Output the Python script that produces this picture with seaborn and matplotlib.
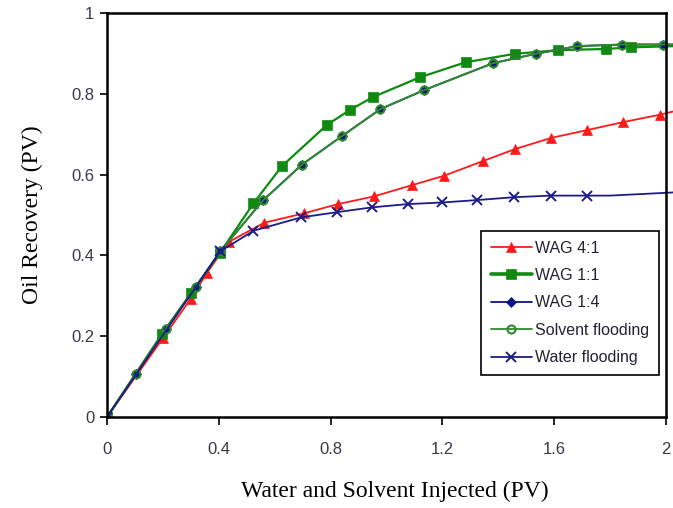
import matplotlib
matplotlib.use("Agg")
import matplotlib.pyplot as plt
import seaborn as sns
import pandas as pd
from matplotlib.transforms import Bbox, TransformedBbox

# Oil recovery curves (PV) versus injected water + solvent (PV)
wag41_x = [0, 0.2, 0.3, 0.357, 0.435, 0.563, 0.704, 0.826, 0.955, 1.092, 1.205,
           1.347, 1.459, 1.590, 1.717, 1.847, 1.977, 2.03]
wag41_y = [0, 0.195, 0.293, 0.356, 0.433, 0.481, 0.504, 0.527, 0.546, 0.574, 0.597,
           0.634, 0.663, 0.691, 0.710, 0.730, 0.748, 0.757]

wag11_x = [0, 0.196, 0.3, 0.405, 0.524, 0.626, 0.787, 0.869, 0.952, 1.12, 1.283,
           1.459, 1.615, 1.785, 1.875, 2.03]
wag11_y = [0, 0.205, 0.306, 0.407, 0.529, 0.621, 0.723, 0.760, 0.792, 0.841, 0.878,
           0.899, 0.908, 0.911, 0.915, 0.918]

wag14_x = [0, 0.104, 0.21, 0.317, 0.405, 0.558, 0.698, 0.842, 0.978, 1.134, 1.382,
           1.534, 1.683, 1.842, 1.988, 2.03]
wag14_y = [0, 0.106, 0.217, 0.321, 0.41, 0.536, 0.625, 0.696, 0.762, 0.809, 0.876,
           0.899, 0.918, 0.922, 0.922, 0.922]

solvent_x = [0, 0.104, 0.21, 0.317, 0.405, 0.558, 0.698, 0.842, 0.978, 1.134, 1.382,
             1.534, 1.683, 1.842, 1.988, 2.03]
solvent_y = [0, 0.106, 0.217, 0.321, 0.41, 0.536, 0.625, 0.696, 0.762, 0.809, 0.876,
             0.899, 0.918, 0.922, 0.922, 0.922]

water_x = [0, 0.405, 0.524, 0.694, 0.823, 0.949, 1.076, 1.2, 1.325, 1.456, 1.588,
           1.717, 1.80, 2.03]
water_y = [0, 0.41, 0.461, 0.494, 0.507, 0.519, 0.527, 0.531, 0.537, 0.544, 0.548,
           0.548, 0.548, 0.556]

x_ticks = [0, 0.4, 0.8, 1.2, 1.6, 2]
x_tick_labels = ["0", "0.4", "0.8", "1.2", "1.6", "2"]
y_ticks = [0, 0.2, 0.4, 0.6, 0.8, 1]
y_tick_labels = ["0", "0.2", "0.4", "0.6", "0.8", "1"]

sns.set_theme(style="white")
plt.rcParams["font.family"] = ["Liberation Sans", "DejaVu Sans"]

fig = plt.figure(figsize=(6.73, 5.08), dpi=100)
ax = fig.add_axes([107 / 673, 1 - 417 / 508, 559 / 673, 404 / 508])

series = [
    ("WAG 4:1", wag41_x, wag41_y,
     dict(color="#ff1a1a", marker="^", markersize=7.5, markeredgewidth=0.5, linewidth=1.3)),
    ("WAG 1:1", wag11_x, wag11_y,
     dict(color="#108a10", marker="s", markersize=7.5, markeredgewidth=0.5, linewidth=1.6)),
    ("WAG 1:4", wag14_x, wag14_y,
     dict(color="#0a1480", marker="D", markersize=4.8, markeredgewidth=0.5, linewidth=1.3)),
    ("Solvent flooding", solvent_x, solvent_y,
     dict(color="#2e8b2e", marker="o", markersize=5.8, markerfacecolor="none",
          markeredgewidth=1.5, linewidth=1.4)),
    ("Water flooding", water_x, water_y,
     dict(color="#1c1c86", marker="x", markersize=7, markeredgewidth=1.4, linewidth=1.3)),
]

# Lines run slightly past the right frame, so clip only on the other sides
clip = TransformedBbox(Bbox([[0, 0], [1.02, 1]]), ax.transAxes)

for name, xs, ys, style in series:
    df = pd.DataFrame({"x": xs, "y": ys})
    n_marked = len(xs) - (2 if name == "Water flooding" else 1)
    sns.lineplot(data=df, x="x", y="y", ax=ax, label=name, sort=False,
                 estimator=None, markevery=list(range(n_marked)),
                 markeredgecolor=style["color"], **style)

for line in ax.get_lines():
    line.set_clip_box(clip)

ax.set_xlim(0, 2)
ax.set_ylim(0, 1)
ax.set_xticks(x_ticks)
ax.set_xticklabels(x_tick_labels)
ax.set_yticks(y_ticks)
ax.set_yticklabels(y_tick_labels)

tick_color = "#3a3a4a"
ax.tick_params(axis="x", direction="out", length=6, width=1.2, color="black",
               pad=12, labelsize=12, labelcolor=tick_color)
ax.tick_params(axis="y", direction="out", length=5, width=1.2, color="black",
               pad=4, labelsize=12, labelcolor=tick_color)
ax.tick_params(bottom=True, left=True)

for sp in ax.spines.values():
    sp.set_visible(True)
    sp.set_color("black")
    sp.set_linewidth(1.8)

ax.set_xlabel("Water and Solvent Injected (PV)", fontsize=17,
              family=["Liberation Serif", "DejaVu Serif"], color="black")
ax.set_ylabel("Oil Recovery (PV)", fontsize=17,
              family=["Liberation Serif", "DejaVu Serif"], color="black")
ax.xaxis.set_label_coords(0.515, -0.185)
ax.xaxis.label.set_va("center")
ax.yaxis.set_label_coords(-0.133, 0.5)
ax.yaxis.label.set_va("center")

leg = ax.legend(loc="lower right", bbox_to_anchor=(0.9875, 0.104), borderaxespad=0,
                fontsize=11.5, handlelength=2.6, handletextpad=0.2,
                labelspacing=0.78, fancybox=False, framealpha=1, borderpad=0.6)
leg.get_frame().set_edgecolor("black")
leg.get_frame().set_linewidth(1.2)
for t in leg.get_texts():
    t.set_color("#222233")
for h, lw in zip(leg.get_lines(), [1.3, 2.6, 1.3, 1.3, 1.3]):
    h.set_linewidth(lw)

fig.savefig("out.png", dpi=100)
